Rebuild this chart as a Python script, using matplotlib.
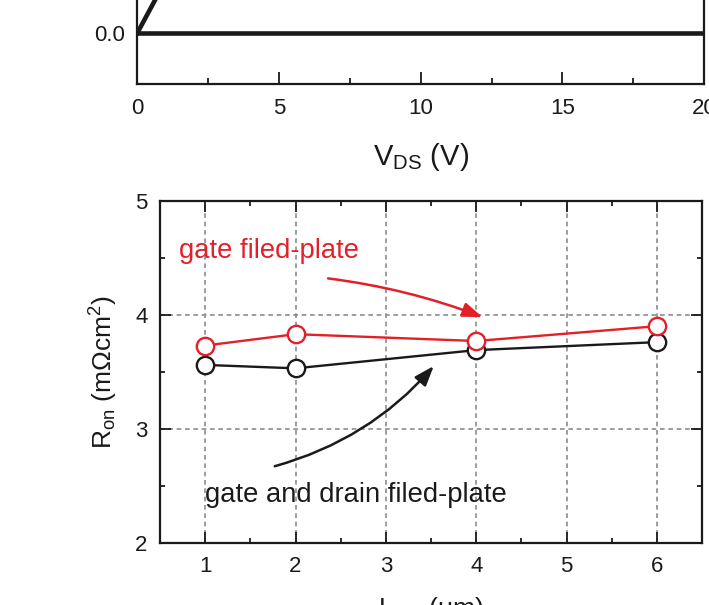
import matplotlib.pyplot as plt
from matplotlib.ticker import MultipleLocator

plt.rcParams['font.family'] = ['Liberation Sans', 'DejaVu Sans']
plt.rcParams['mathtext.fontset'] = 'custom'
plt.rcParams['mathtext.rm'] = 'Liberation Sans'
plt.rcParams['mathtext.it'] = 'Liberation Sans:italic'

## upper panel (only its lower edge is in view)
vds_on = [0, 0.63, 1.5]
id_on = [0, 0.13, 0.31]
vds_off = [0, 5, 10, 15, 20]
id_off = [0, 0, 0, 0, 0]

## lower panel
lgd = [1, 2, 4, 6]
ron_gate = [3.73, 3.83, 3.77, 3.90]
ron_gate_drain = [3.56, 3.53, 3.69, 3.76]

red = '#e3202a'
dark = '#1a1a1a'

fig = plt.figure(figsize=(7.09, 6.05), dpi=100)

## upper panel
ax1 = fig.add_axes([0.1937, 0.8612, 0.7993, 0.5058])
ax1.plot(vds_off, id_off, color=dark, lw=3.3, solid_capstyle='butt')
ax1.plot(vds_on, id_on, color=dark, lw=3.3)
ax1.set_xlim(0, 20)
ax1.set_ylim(-0.2, 1.0)
ax1.set_yticks([0.0])
ax1.yaxis.set_major_formatter(plt.FormatStrFormatter('%.1f'))
ax1.xaxis.set_major_locator(MultipleLocator(5))
ax1.xaxis.set_minor_locator(MultipleLocator(2.5))
ax1.tick_params(which='both', direction='in', labelsize=16, width=1.3, colors=dark)
ax1.tick_params(which='major', length=8.7)
ax1.tick_params(which='minor', length=4.3)
ax1.tick_params(axis='x', pad=10)
ax1.tick_params(axis='y', pad=9)
for s in ax1.spines.values():
    s.set_linewidth(1.6)
    s.set_color(dark)
ax1.set_xlabel(r'V$_{\mathregular{DS}}$ (V)', fontsize=21, labelpad=16, color=dark)

## lower panel
ax2 = fig.add_axes([0.2257, 0.1033, 0.7645, 0.5645])
ax2.plot(lgd, ron_gate, color=red, lw=1.7, marker='o', ms=12.5, mew=1.7,
         mfc='white', mec=red, zorder=3)
ax2.plot(lgd, ron_gate_drain, color=dark, lw=1.7, marker='o', ms=12.5, mew=1.7,
         mfc='white', mec=dark, zorder=2)
ax2.set_xlim(0.5, 6.5)
ax2.set_ylim(2, 5)
ax2.xaxis.set_major_locator(MultipleLocator(1))
ax2.xaxis.set_minor_locator(MultipleLocator(0.5))
ax2.yaxis.set_major_locator(MultipleLocator(1))
ax2.yaxis.set_minor_locator(MultipleLocator(0.5))
ax2.grid(True, which='major', color='#8c8c8c', lw=1.2, ls=(0, (2.8, 2.2)))
ax2.tick_params(which='both', direction='in', top=True, right=True,
                labelsize=16, width=1.3, colors=dark)
ax2.tick_params(which='major', length=7.7)
ax2.tick_params(which='minor', length=3.8)
ax2.tick_params(axis='x', pad=10)
ax2.tick_params(axis='y', pad=9)
for s in ax2.spines.values():
    s.set_linewidth(1.6)
    s.set_color(dark)
ax2.set_ylabel(r'R$_{\mathregular{on}}$ (m$\mathregular{\Omega}$cm$^{\mathregular{2}}$)', fontsize=19,
               labelpad=11, color=dark)
ax2.set_xlabel(r'L$_{\mathregular{GD}}$ (μm)', fontsize=19, labelpad=13, color=dark)

ax2.text(0.71, 4.50, 'gate filed-plate', color=red, fontsize=19.7)
ax2.annotate('', xy=(4.07, 3.98), xytext=(2.36, 4.32),
             arrowprops=dict(arrowstyle='-|>,head_length=0.6,head_width=0.22',
                             color=red, lw=1.8, shrinkA=0, shrinkB=0,
                             mutation_scale=20, connectionstyle='arc3,rad=-0.06'))
ax2.text(1.0, 2.355, 'gate and drain filed-plate', color=dark, fontsize=19.7)
ax2.annotate('', xy=(3.53, 3.55), xytext=(1.77, 2.67),
             arrowprops=dict(arrowstyle='-|>,head_length=0.6,head_width=0.22',
                             color=dark, lw=1.8, shrinkA=0, shrinkB=0,
                             mutation_scale=20, connectionstyle='arc3,rad=0.15'))

plt.savefig('out.png', dpi=100)
